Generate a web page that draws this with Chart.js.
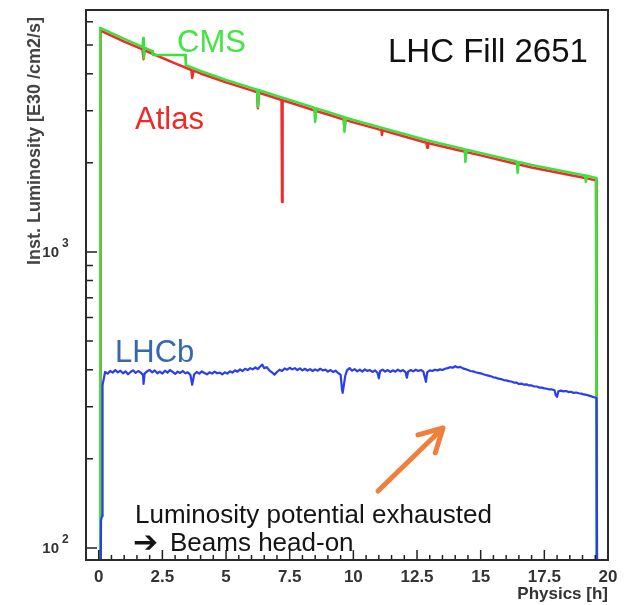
<!DOCTYPE html>
<html>
<head>
<meta charset="utf-8">
<title>LHC Fill 2651</title>
<script src="https://cdn.jsdelivr.net/npm/chart.js@4.4.1/dist/chart.umd.min.js"></script>
<style>
    html, body { margin: 0; padding: 0; background: #fff; }
    #wrap { position: relative; width: 631px; height: 605px; }
</style>
</head>
<body>
<div id="wrap"><canvas id="lumiChart"></canvas></div>
<script>
/**
 * LHC Fill 2651: instantaneous luminosity per experiment
 * log y axis, ROOT-style frame drawn by a small plugin
 */

// Axis ticks
var xTicks = [0, 2.5, 5, 7.5, 10, 12.5, 15, 17.5, 20];
var xTickLabels = ['0', '2.5', '5', '7.5', '10', '12.5', '15', '17.5', '20'];
var yDecades = [100, 1000];
var yDecadeExp = ['2', '3'];

// CMS (green)
var cmsHours = [0.05, 0.06, 1.0, 1.72, 1.75, 1.77, 1.8, 2.0, 2.1, 2.13, 3.4, 3.42, 4.0, 5.0, 6.0, 6.22, 6.25, 6.3, 7.0, 8.0,
    8.46, 8.5, 8.55, 9.0, 9.62, 9.65, 9.7, 10.0, 11.0, 12.0, 13.0, 14.0, 14.37, 14.4, 14.45, 15.0, 16.0, 16.42, 16.45, 16.5,
    17.0, 18.0, 19.0, 19.1, 19.13, 19.18, 19.53, 19.55];
var cmsLumi = [91, 5712, 5244, 4931, 5284, 4518, 4897, 4814, 4772, 4630, 4630, 4276, 4088, 3812, 3583, 3532, 3090, 3520, 3365, 3162,
    3073, 2749, 3056, 2972, 2858, 2543, 2845, 2792, 2644, 2504, 2371, 2263, 2225, 2014, 2215, 2160, 2062, 2021, 1849, 2015,
    1968, 1892, 1820, 1812, 1724, 1808, 1778, 91];

// Atlas (red)
var atlasHours = [0.06, 0.07, 1.0, 1.72, 1.76, 1.8, 2.0, 3.0, 3.64, 3.67, 3.72, 4.0, 5.0, 6.0, 6.22, 6.25, 6.3, 7.0, 7.18, 7.2,
    7.22, 8.0, 8.5, 9.0, 9.62, 9.65, 9.7, 10.0, 11.0, 11.1, 11.12, 11.15, 12.0, 12.87, 12.9, 12.93, 13.0, 14.0, 15.0, 16.0,
    17.0, 18.0, 19.0, 19.53, 19.56];
var atlasLumi = [91, 5600, 5140, 4835, 4480, 4800, 4720, 4335, 4120, 3870, 4100, 4010, 3740, 3515, 3465, 3060, 3450, 3300, 3263, 1476,
    3255, 3100, 3000, 2915, 2800, 2620, 2790, 2740, 2595, 2580, 2485, 2575, 2455, 2340, 2250, 2335, 2325, 2220, 2120, 2020,
    1930, 1855, 1785, 1745, 91];

// LHCb (blue), levelled luminosity
var lhcbHours = [0.08, 0.09, 0.13, 0.15, 0.25, 0.35, 0.45, 0.55, 0.65, 0.75, 0.85, 0.95, 1.05, 1.15, 1.25, 1.35, 1.45, 1.55, 1.65, 1.74,
    1.76, 1.8, 1.9, 2.0, 2.1, 2.2, 2.3, 2.4, 2.5, 2.6, 2.7, 2.8, 2.9, 3.0, 3.1, 3.2, 3.3, 3.4, 3.5, 3.6,
    3.67, 3.75, 3.85, 3.95, 4.05, 4.15, 4.25, 4.35, 4.45, 4.55, 4.65, 4.75, 4.85, 4.95, 5.05, 5.15, 5.25, 5.35, 5.45, 5.55,
    5.65, 5.75, 5.85, 5.95, 6.05, 6.15, 6.25, 6.35, 6.42, 6.5, 6.6, 6.7, 6.8, 6.9, 7.0, 7.1, 7.2, 7.3, 7.4, 7.5,
    7.6, 7.7, 7.8, 7.9, 8.0, 8.1, 8.2, 8.3, 8.4, 8.5, 8.6, 8.7, 8.8, 8.9, 9.0, 9.1, 9.2, 9.3, 9.4, 9.5,
    9.55, 9.58, 9.62, 9.68, 9.75, 9.85, 9.95, 10.05, 10.15, 10.25, 10.35, 10.45, 10.55, 10.65, 10.75, 10.85, 10.95, 11.0, 11.05, 11.15,
    11.25, 11.35, 11.45, 11.55, 11.65, 11.75, 11.85, 11.95, 12.05, 12.1, 12.15, 12.25, 12.35, 12.45, 12.55, 12.65, 12.75, 12.85, 12.9, 13.0,
    13.1, 13.2, 13.3, 13.4, 13.5, 13.6, 13.7, 13.8, 13.9, 14.0, 14.1, 14.2, 14.3, 14.4, 14.5, 14.6, 14.7, 14.8, 14.9, 15.0,
    15.1, 15.2, 15.3, 15.4, 15.5, 15.6, 15.7, 15.8, 15.9, 16.0, 16.1, 16.2, 16.3, 16.4, 16.5, 16.6, 16.7, 16.8, 16.9, 17.0,
    17.1, 17.2, 17.3, 17.4, 17.5, 17.6, 17.7, 17.8, 17.9, 17.95, 18.0, 18.05, 18.15, 18.25, 18.35, 18.45, 18.55, 18.65, 18.75, 18.85,
    18.95, 19.05, 19.15, 19.25, 19.35, 19.45, 19.55, 19.57];
var lhcbLumi = [91, 124, 128, 355, 393, 388, 396, 391, 399, 392, 397, 389, 395, 386, 393, 398, 390, 396, 391, 384,
    358, 388, 395, 399, 392, 398, 389, 394, 388, 397, 391, 399, 393, 387, 394, 390, 396, 389, 392, 384,
    356, 386, 393, 388, 395, 390, 386, 392, 388, 394, 389, 391, 386, 392, 388, 395, 391, 398, 394, 401,
    396, 403, 399, 405, 401, 407, 402, 411, 416, 405, 408, 398, 392, 385, 393, 400, 396, 404, 400, 406,
    401, 405, 399, 404, 398, 403, 397, 402, 396, 401, 397, 403, 398, 400, 394, 399, 393, 397, 390, 384,
    345, 334, 352, 381, 398, 405, 397, 402, 395, 400, 394, 401, 396, 399, 393, 398, 390, 374, 396, 400,
    394, 399, 393, 398, 394, 400, 395, 399, 392, 376, 394, 399, 395, 400, 396, 399, 394, 364, 392, 398,
    396, 400, 398, 401, 399, 403, 405, 408, 406, 411, 407, 409, 404, 402, 399, 396, 395, 392, 390, 389,
    386, 384, 382, 380, 377, 376, 373, 372, 369, 368, 366, 365, 362, 362, 358, 359, 356, 357, 354, 354,
    351, 351, 348, 348, 346, 345, 343, 343, 341, 328, 324, 338, 340, 338, 339, 336, 337, 334, 335, 333,
    332, 330, 329, 327, 325, 323, 321, 91];

function toPoints(xs, ys) {
    return xs.map(function (x, i) { return { x: x, y: ys[i] }; });
}

var rootFrame = {
    id: 'rootFrame',
    afterDatasetsDraw: function (chart) {
        var ctx = chart.ctx, a = chart.chartArea;
        var xs = chart.scales.x, ys = chart.scales.y;
        ctx.save();

        // inward ticks
        ctx.strokeStyle = '#222';
        ctx.lineWidth = 1.5;
        ctx.beginPath();
        for (var m = 0; m <= 40; m++) {
            var px = xs.getPixelForValue(m * 0.5);
            var len = (m % 5 === 0) ? 10 : 5;
            ctx.moveTo(px, a.bottom);
            ctx.lineTo(px, a.bottom - len);
        }
        yDecades.forEach(function (d) {
            for (var k = 1; k <= 9; k++) {
                var val = d * k;
                if (val < ys.min || val > ys.max) continue;
                var py = ys.getPixelForValue(val);
                ctx.moveTo(a.left, py);
                ctx.lineTo(a.left + (k === 1 ? 11 : 7), py);
            }
        });
        ctx.stroke();

        // frame
        ctx.lineWidth = 2;
        ctx.strokeStyle = '#2a2a2a';
        ctx.strokeRect(a.left, a.top, a.right - a.left, a.bottom - a.top);

        // x tick labels
        ctx.fillStyle = '#333';
        ctx.font = 'bold 17px "Liberation Sans", Arial, sans-serif';
        ctx.textAlign = 'center';
        ctx.textBaseline = 'alphabetic';
        xTicks.forEach(function (v, i) {
            ctx.fillText(xTickLabels[i], xs.getPixelForValue(v), a.bottom + 22);
        });
        ctx.textAlign = 'right';
        ctx.fillText('Physics [h]', a.right, a.bottom + 39);

        // y decade labels 10^n
        yDecades.forEach(function (d, i) {
            var py = ys.getPixelForValue(d);
            ctx.textBaseline = 'middle';
            ctx.textAlign = 'right';
            ctx.font = 'bold 15px "Liberation Sans", Arial, sans-serif';
            ctx.fillText('10', a.left - 27, py + 1);
            ctx.textAlign = 'left';
            ctx.font = 'bold 12px "Liberation Sans", Arial, sans-serif';
            ctx.fillText(yDecadeExp[i], a.left - 24, py - 8);
        });

        // y axis title
        ctx.save();
        ctx.translate(35, 265);
        ctx.rotate(-Math.PI / 2);
        ctx.textAlign = 'left';
        ctx.textBaseline = 'middle';
        ctx.fillStyle = '#444';
        ctx.font = 'bold 18px "Liberation Sans", Arial, sans-serif';
        ctx.fillText('Inst. Luminosity [E30 /cm2/s]', 0, 0);
        ctx.restore();

        // labels in the plot
        ctx.textAlign = 'left';
        ctx.textBaseline = 'alphabetic';
        ctx.font = '33px "Liberation Sans", Arial, sans-serif';
        ctx.fillStyle = '#111';
        ctx.fillText('LHC Fill 2651', 388, 62);
        ctx.font = '31px "Liberation Sans", Arial, sans-serif';
        ctx.fillStyle = '#44e444';
        ctx.fillText('CMS', 177, 52);
        ctx.fillStyle = '#f02828';
        ctx.fillText('Atlas', 135, 129);
        ctx.fillStyle = '#3468b0';
        ctx.fillText('LHCb', 115, 362);

        ctx.font = '26px "Liberation Sans", Arial, sans-serif';
        ctx.fillStyle = '#141414';
        ctx.fillText('Luminosity potential exhausted', 135, 523);
        ctx.font = 'bold 30px "DejaVu Sans", sans-serif';
        ctx.fillText('\u2794', 133, 552);
        ctx.font = '26px "Liberation Sans", Arial, sans-serif';
        ctx.fillText('Beams head-on', 170, 551);

        // orange arrow
        var x0 = 378, y0 = 491, x1 = 443, y1 = 428;
        var ang = Math.atan2(y1 - y0, x1 - x0);
        ctx.strokeStyle = '#ef7f3b';
        ctx.lineWidth = 5;
        ctx.lineCap = 'round';
        ctx.lineJoin = 'round';
        ctx.beginPath();
        ctx.moveTo(x0, y0);
        ctx.lineTo(x1, y1);
        ctx.moveTo(x1 - 26 * Math.cos(ang - 0.5), y1 - 26 * Math.sin(ang - 0.5));
        ctx.lineTo(x1, y1);
        ctx.lineTo(x1 - 26 * Math.cos(ang + 0.5), y1 - 26 * Math.sin(ang + 0.5));
        ctx.stroke();

        ctx.restore();
    }
};

var ctxEl = document.getElementById('lumiChart');
new Chart(ctxEl.getContext('2d'), {
    type: 'line',
    data: {
        datasets: [
            { label: 'LHCb', data: toPoints(lhcbHours, lhcbLumi), borderColor: '#2a3ef0', borderWidth: 2.2 },
            { label: 'CMS', data: toPoints(cmsHours, cmsLumi), borderColor: '#3ee03e', borderWidth: 2.5 },
            { label: 'Atlas', data: toPoints(atlasHours, atlasLumi), borderColor: '#f22a2a', borderWidth: 2.5 }
        ]
    },
    options: {
        responsive: true, maintainAspectRatio: false, animation: false,
        layout: { padding: { left: 86, right: 23, top: 10, bottom: 45 } },
        elements: { point: { radius: 0 }, line: { tension: 0, borderJoinStyle: 'round', fill: false } },
        plugins: { legend: { display: false }, tooltip: { enabled: false } },
        scales: {
            x: { type: 'linear', min: -0.5, max: 20, display: false },
            y: { type: 'logarithmic', min: 91, max: 6570, display: false }
        }
    },
    plugins: [rootFrame]
});
</script>
</body>
</html>
